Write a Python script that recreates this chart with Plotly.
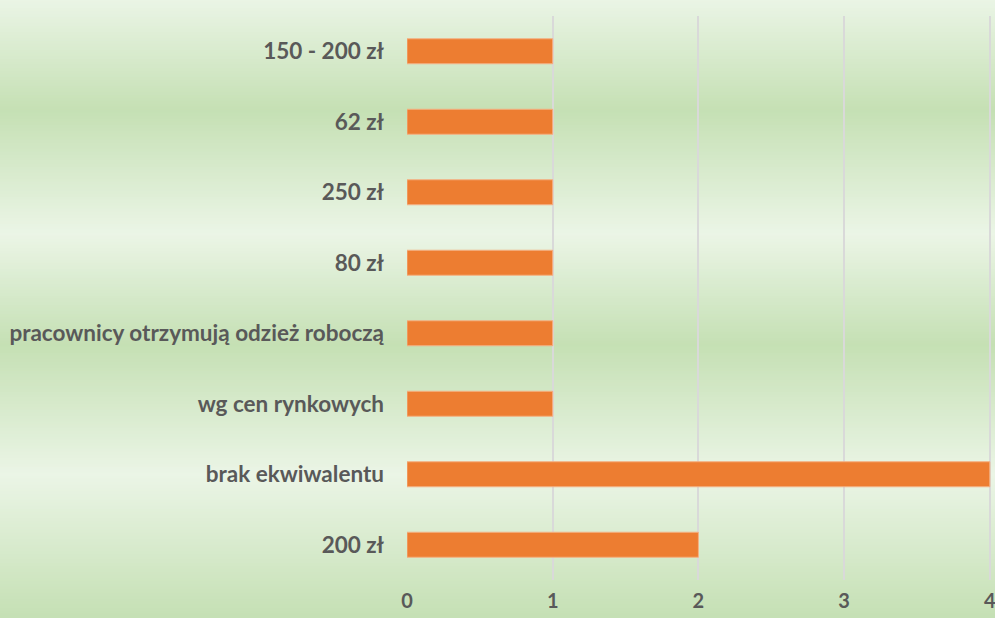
import plotly.graph_objects as go

categories = ["200 zł", "brak ekwiwalentu", "wg cen rynkowych",
              "pracownicy otrzymują odzież roboczą", "80 zł", "250 zł",
              "62 zł", "150 - 200 zł"]
values = [2, 4, 1, 1, 1, 1, 1, 1]
x_ticks = [0, 1, 2, 3, 4]

W, H = 995, 618
ML, MR, MT, MB = 407, 3, 16, 38
PW, PH = W - ML - MR, H - MT - MB

LIGHT = (235, 245, 230)
DARK = (197, 224, 180)
# gradient stops (fraction from top of figure, 0=light, 1=dark)
stops = [(0.0, 0.0), (0.18, 1.0), (0.38, 0.0), (0.56, 1.0), (0.77, 0.0), (1.0, 1.0)]

def mix_at(f):
    for (a, va), (b, vb) in zip(stops[:-1], stops[1:]):
        if a <= f <= b:
            t = (f - a) / (b - a) if b > a else 0
            v = va + (vb - va) * t
            break
    else:
        v = stops[-1][1]
    c = tuple(round(LIGHT[i] + (DARK[i] - LIGHT[i]) * v) for i in range(3))
    return "rgb(%d,%d,%d)" % c

shapes = []
step = 3
for py in range(0, H, step):
    y0 = (H - MB - py - step) / PH
    y1 = (H - MB - py) / PH
    shapes.append(dict(type="rect", xref="paper", yref="paper",
                       x0=-ML / PW - 0.01, x1=1 + MR / PW + 0.01,
                       y0=y0 - 0.003, y1=y1 + 0.002, line=dict(width=0),
                       fillcolor=mix_at((py + step / 2) / H), layer="below"))

fig = go.Figure(go.Bar(
    x=values, y=categories, orientation="h",
    marker=dict(color="#ED7D31", line=dict(color="#F4B183", width=1)),
    hoverinfo="x+y",
))

fig.update_layout(
    width=W, height=H,
    margin=dict(l=ML, r=MR, t=MT, b=MB, pad=0, autoexpand=False),
    paper_bgcolor="#C5E0B4", plot_bgcolor="rgba(0,0,0,0)",
    shapes=shapes, bargap=0.645, showlegend=False,
    font=dict(family="Lato", color="#595959"),
)
fig.update_xaxes(
    range=[0, 4.015], tickvals=x_ticks, showgrid=True, gridcolor="#D9D9D9",
    gridwidth=1.5, zeroline=False, showline=False, automargin=False,
    tickfont=dict(family="Lato", size=20, color="#595959", weight="bold"),
    ticklabelstandoff=7, ticklabeloverflow="allow", fixedrange=True,
)
fig.update_yaxes(
    categoryorder="array", categoryarray=categories, showgrid=False,
    zeroline=False, showline=False, automargin=False,
    tickfont=dict(family="Lato", size=22.5, color="#595959", weight="bold"),
    ticklabelstandoff=22, fixedrange=True,
)
fig.write_html("out.html", config={"displayModeBar": False},
               post_script="document.body.style.margin='0';document.body.style.overflow='hidden';")
